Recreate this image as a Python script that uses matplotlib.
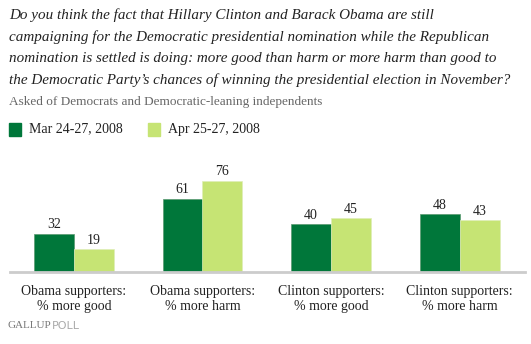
import numpy as np
import matplotlib
matplotlib.use("Agg")
import matplotlib.pyplot as plt

# data
categories = ["Obama supporters:\n% more good", "Obama supporters:\n% more harm",
              "Clinton supporters:\n% more good", "Clinton supporters:\n% more harm"]
series_names = ["Mar 24-27, 2008", "Apr 25-27, 2008"]
mar_vals = [32, 61, 40, 48]
apr_vals = [19, 76, 45, 43]

title_lines = [
    "Do you think the fact that Hillary Clinton and Barack Obama are still",
    "campaigning for the Democratic presidential nomination while the Republican",
    "nomination is settled is doing: more good than harm or more harm than good to",
    "the Democratic Party\u2019s chances of winning the presidential election in November?",
]
subtitle = "Asked of Democrats and Democratic-leaning independents"

dark = "#00773a"
light = "#c6e474"
W, H = 531, 344
fig = plt.figure(figsize=(W / 100, H / 100), dpi=100)
serif = "Liberation Serif"

def fx(px):
    return px / W

def fy(py):
    return 1 - py / H

# title
for i, line in enumerate(title_lines):
    fig.text(fx(9), fy(15 + i * 21.7), line, fontsize=10.9, style="italic",
             family=serif, color="#222222", va="center", ha="left")
fig.text(fx(9), fy(102), subtitle, fontsize=9.5, family=serif, color="#666666",
         va="center", ha="left")

# legend
for (x0, col, name) in [(9, dark, series_names[0]), (148, light, series_names[1])]:
    fig.patches.append(plt.Rectangle((fx(x0), fy(136)), 12 / W, 13 / H,
                                     transform=fig.transFigure, color=col))
    fig.text(fx(x0 + 20), fy(129), name, fontsize=10, family=serif,
             color="#222222", va="center", ha="left")

# axes: baseline at y=272px, x from 10 to 525px
unit = 128.5
c0 = 74
ax = fig.add_axes([fx(10), fy(272), (525 - 10) / W, 122 / H])
ax.set_xlim((10 - c0) / unit, (525 - c0) / unit)
ax.set_ylim(0, 122 / 1.2)
bw = 40 / unit
x = np.arange(len(categories))
ax.bar(x - bw / 2, mar_vals, bw, color=dark, edgecolor="#5a9a70", linewidth=0.5)
ax.bar(x + bw / 2, apr_vals, bw, color=light, edgecolor="#dfeeb8", linewidth=0.5)
for xi, v in zip(x, mar_vals):
    ax.text(xi - bw / 2, v + 2, str(v), ha="center", va="bottom", fontsize=10,
            family=serif, color="#222222")
for xi, v in zip(x, apr_vals):
    ax.text(xi + bw / 2, v + 2, str(v), ha="center", va="bottom", fontsize=10,
            family=serif, color="#222222")
for s in ["top", "left", "right"]:
    ax.spines[s].set_visible(False)
ax.spines["bottom"].set_color("#cccccc")
ax.spines["bottom"].set_linewidth(2)
ax.set_yticks([])
ax.set_xticks(x)
ax.set_xticklabels(categories, fontsize=10, family=serif, color="#222222",
                   linespacing=1.2)
ax.tick_params(axis="x", length=0, pad=9.5)

# footer
fig.text(fx(7), fy(326), "GALLUP", fontsize=8, family=serif, color="#777777",
         va="center", ha="left")
fig.text(fx(52), fy(326), "POLL", fontsize=8, family="DejaVu Sans", color="#aaaaaa",
         va="center", ha="left")

fig.savefig("out.png", dpi=100)
